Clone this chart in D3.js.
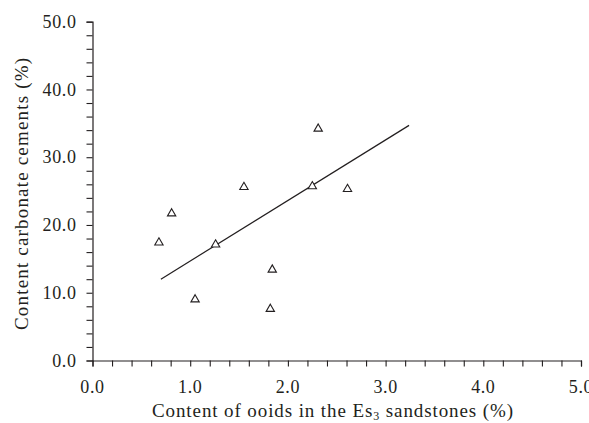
<!DOCTYPE html>
<html><head><meta charset="utf-8">
<script src="https://cdn.jsdelivr.net/npm/d3@7"></script>
<style>body{margin:0;background:#fff}svg{display:block}</style>
</head><body>
<svg id="c" width="589" height="423"></svg>
<script>
const ooids = [2.31, 2.25, 2.61, 1.55, 0.81, 0.68, 1.26, 1.84, 1.05, 1.82];
const carbonate = [34.2, 25.7, 25.3, 25.6, 21.7, 17.4, 17.1, 13.4, 9.0, 7.6];
const fitX = [0.70, 3.24];
const fitY = [12.0, 34.7];
const xTicks = [0, 1, 2, 3, 4, 5];
const yTicks = [0, 10, 20, 30, 40, 50];
const xLabel = "Content of ooids in the Es";
const xLabelSub = "3";
const xLabelEnd = " sandstones (%)";
const yLabel = "Content carbonate cements (%)";

const svg = d3.select("#c");
const font = "'Liberation Serif','Times New Roman',serif";
const ink = "#231f20";
const x = d3.scaleLinear().domain([0,5]).range([92.5,581]);
const y = d3.scaleLinear().domain([0,50]).range([360.5,21.7]);

// minor ticks
const xMinor = d3.range(0, 5.0001, 0.2);
const yMinor = d3.range(0, 50.0001, 2);
const xa = svg.append("g").attr("transform",`translate(0,${y(0)})`)
  .call(d3.axisBottom(x).tickValues(xMinor).tickSize(6).tickFormat(""));
const ya = svg.append("g").attr("transform",`translate(${x(0)},0)`)
  .call(d3.axisLeft(y).tickValues(yMinor).tickSize(6).tickFormat(""));
[xa, ya].forEach(g=>{
  g.select(".domain").attr("stroke",ink).attr("stroke-width",1.2);
  g.selectAll(".tick line").attr("stroke",ink).attr("stroke-width",1.1);
});
// labels
svg.append("g").selectAll("text").data(xTicks).join("text")
  .attr("x", d=>x(d)).attr("y", 393).attr("text-anchor","middle")
  .attr("font-family",font).attr("font-size",18).attr("letter-spacing",0.6).attr("fill",ink)
  .text(d=>d3.format(".1f")(d));
svg.append("g").selectAll("text").data(yTicks).join("text")
  .attr("x", 76.5).attr("y", d=>y(d)).attr("dy","0.34em").attr("text-anchor","end")
  .attr("font-family",font).attr("font-size",18).attr("letter-spacing",0.6).attr("fill",ink)
  .text(d=>d3.format(".1f")(d));

const xl = svg.append("text").attr("x", 152).attr("y", 417)
  .attr("font-family",font).attr("font-size",19).attr("fill",ink)
  .attr("textLength",361).attr("lengthAdjust","spacing");
xl.append("tspan").text(xLabel);
xl.append("tspan").attr("font-size",12).attr("dy",3).text(xLabelSub);
xl.append("tspan").attr("dy",-3).text(xLabelEnd);

svg.append("text").attr("transform",`translate(28,194) rotate(-90)`)
  .attr("text-anchor","middle").attr("font-family",font).attr("font-size",19).attr("fill",ink)
  .attr("textLength",272).attr("lengthAdjust","spacing")
  .text(yLabel);

// fit line
svg.append("path").datum(fitX.map((d,i)=>[d,fitY[i]]))
  .attr("d", d3.line().x(d=>x(d[0])).y(d=>y(d[1])))
  .attr("stroke",ink).attr("stroke-width",1.2).attr("fill","none");

// points
const tri = d3.symbol().type(d3.symbolTriangle).size(30);
svg.append("g").selectAll("path").data(ooids.map((d,i)=>[d,carbonate[i]])).join("path")
  .attr("d", tri).attr("transform", d=>`translate(${x(d[0])},${y(d[1])})`)
  .attr("fill","#fff").attr("stroke",ink).attr("stroke-width",1.1);
</script>
</body></html>
